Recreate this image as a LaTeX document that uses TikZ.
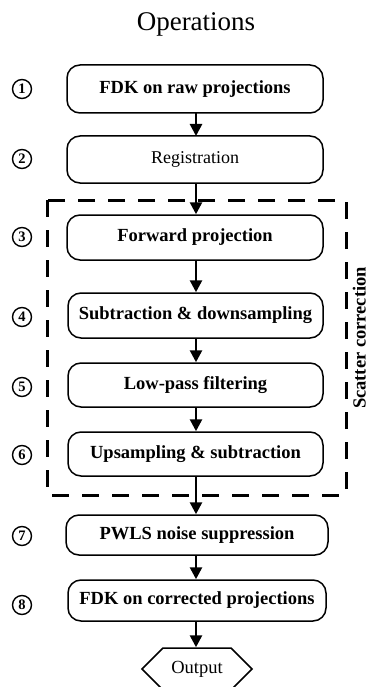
\documentclass[tikz,border=0pt]{standalone}
\usepackage{fontspec}
\setmainfont{Liberation Serif}
\usetikzlibrary{arrows.meta,shapes.symbols}
\tikzset{
  opbox/.style={draw, line width=1.5pt, rounded corners=13pt, minimum width=256pt, inner sep=0pt, font=\fontsize{18.5}{20}\selectfont\bfseries},
  numc/.style={draw, circle, line width=1.4pt, minimum size=19pt, inner sep=0pt, font=\fontsize{14.5}{15}\selectfont\bfseries},
  flow/.style={line width=2.6pt, -{Triangle[width=12pt,length=12pt]}},
  scat/.style={line width=3pt, dash pattern=on 17pt off 13pt}
}
\begin{document}
\begin{tikzpicture}[x=1pt,y=-1pt]
\useasboundingbox (0,0) rectangle (369,687);
\node[font=\fontsize{27}{30}\selectfont] (title) at (196,24) {Operations};

\node[opbox, minimum height=48pt] (b1) at (195,89) {FDK on raw projections};
\node[opbox, minimum height=47pt, font=\fontsize{18}{20}\selectfont] (b2) at (195,159.5) {Registration};
\node[opbox, minimum height=45pt] (b3) at (195,237.5) {Forward projection};
\node[opbox, minimum height=45pt, minimum width=255pt] (b4) at (195.5,315.5) {Subtraction \& downsampling};
\node[opbox, minimum height=44pt, minimum width=255pt] (b5) at (195.5,385) {Low-pass filtering};
\node[opbox, minimum height=44pt, minimum width=255pt] (b6) at (195.5,454) {Upsampling \& subtraction};
\node[opbox, minimum height=40pt, minimum width=262pt] (b7) at (197,535) {PWLS noise suppression};
\node[opbox, minimum height=41pt, minimum width=258pt] (b8) at (197,600.5) {FDK on corrected projections};
\node[draw, line width=1.5pt, signal, signal to=east and west, signal pointer angle=90, minimum width=110pt, minimum height=42pt, inner sep=0pt, font=\fontsize{18.5}{20}\selectfont] (out) at (197,669) {Output};

\node[numc] (n1) at (22,89) {1};
\node[numc] (n2) at (22,159) {2};
\node[numc] (n3) at (22,237) {3};
\node[numc] (n4) at (22,317) {4};
\node[numc] (n5) at (22,387) {5};
\node[numc] (n6) at (22,455) {6};
\node[numc] (n7) at (22,536) {7};
\node[numc] (n8) at (22,605) {8};

\coordinate (dtl) at (47,200);
\coordinate (dbr) at (346,495);
\draw[scat] (dtl) rectangle (dbr);
\node[rotate=90, anchor=south, inner sep=0pt, font=\fontsize{18.5}{20}\selectfont\bfseries] (sc) at (366,338) {Scatter correction};

\draw[flow] (196,113) coordinate (a1) -- (196,136) coordinate (a2);
\draw[flow] (b2.south -| a1) -- (b3.north -| a1);
\draw[flow] (b3.south -| a1) -- (b4.north -| a1);
\draw[flow] (b4.south -| a1) -- (b5.north -| a1);
\draw[flow] (b5.south -| a1) -- (b6.north -| a1);
\draw[flow] (b6.south -| a1) -- (b7.north -| a1);
\draw[flow] (b7.south -| a1) -- (b8.north -| a1);
\draw[flow] (b8.south -| a1) -- (out.north -| a1);
\end{tikzpicture}
\end{document}
